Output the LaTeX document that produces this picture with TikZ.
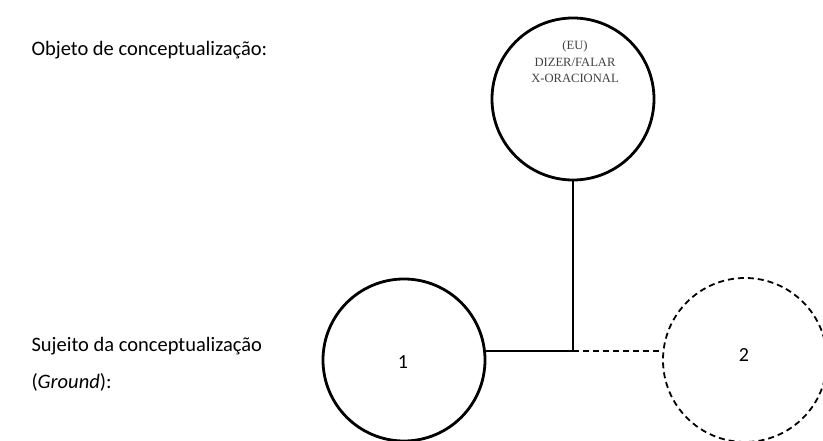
\documentclass[tikz,border=0pt]{standalone}
\usepackage{fontspec}
\setmainfont{Carlito}
\newfontfamily\serifsmall{Liberation Serif}
\tikzset{
  bigcircle/.style={circle, draw, line width=2.8pt, minimum size=162pt, inner sep=0pt},
  ghostcircle/.style={circle, draw, dashed, dash pattern=on 6pt off 4pt, line width=1.8pt, minimum size=164pt, inner sep=0pt},
  sidetext/.style={anchor=west, align=left, font=\fontsize{20.5}{37}\selectfont},
  link/.style={line width=2.8pt},
}
\begin{document}
\begin{tikzpicture}[x=1pt, y=-1pt]
    \useasboundingbox (0,0) rectangle (823,441);

    % Side labels
    \node[sidetext] (objlabel) at (28,50) {Objeto de conceptualização:};
    \node[sidetext] (subjlabel) at (28,364) {Sujeito da conceptualização\\(\textit{Ground}):};

    % Circles
    \node[bigcircle] (obj) at (573,99) {};
    \node[bigcircle] (ground) at (404,360) {};
    \node[ghostcircle] (other) at (745,360) {};

    % Texts inside
    \node[font=\serifsmall\fontsize{12.6}{16.5}\selectfont, text=black!75, align=center] (objtext) at (575,62) {(EU)\\DIZER/FALAR\\X-ORACIONAL};
    \node[font=\fontsize{20}{24}\selectfont] (one) at (403,362) {1};
    \node[font=\fontsize{20}{24}\selectfont] (two) at (744,355) {2};

    % Connectors
    \coordinate (joint) at (obj.south |- 0,351);
    \draw[link] (obj.south) -- (joint);
    \draw[link] (ground.east |- joint) -- (joint);
    \draw[line width=1.8pt, dash pattern=on 6pt off 4pt] (joint) -- (other.west |- joint);
\end{tikzpicture}
\end{document}
